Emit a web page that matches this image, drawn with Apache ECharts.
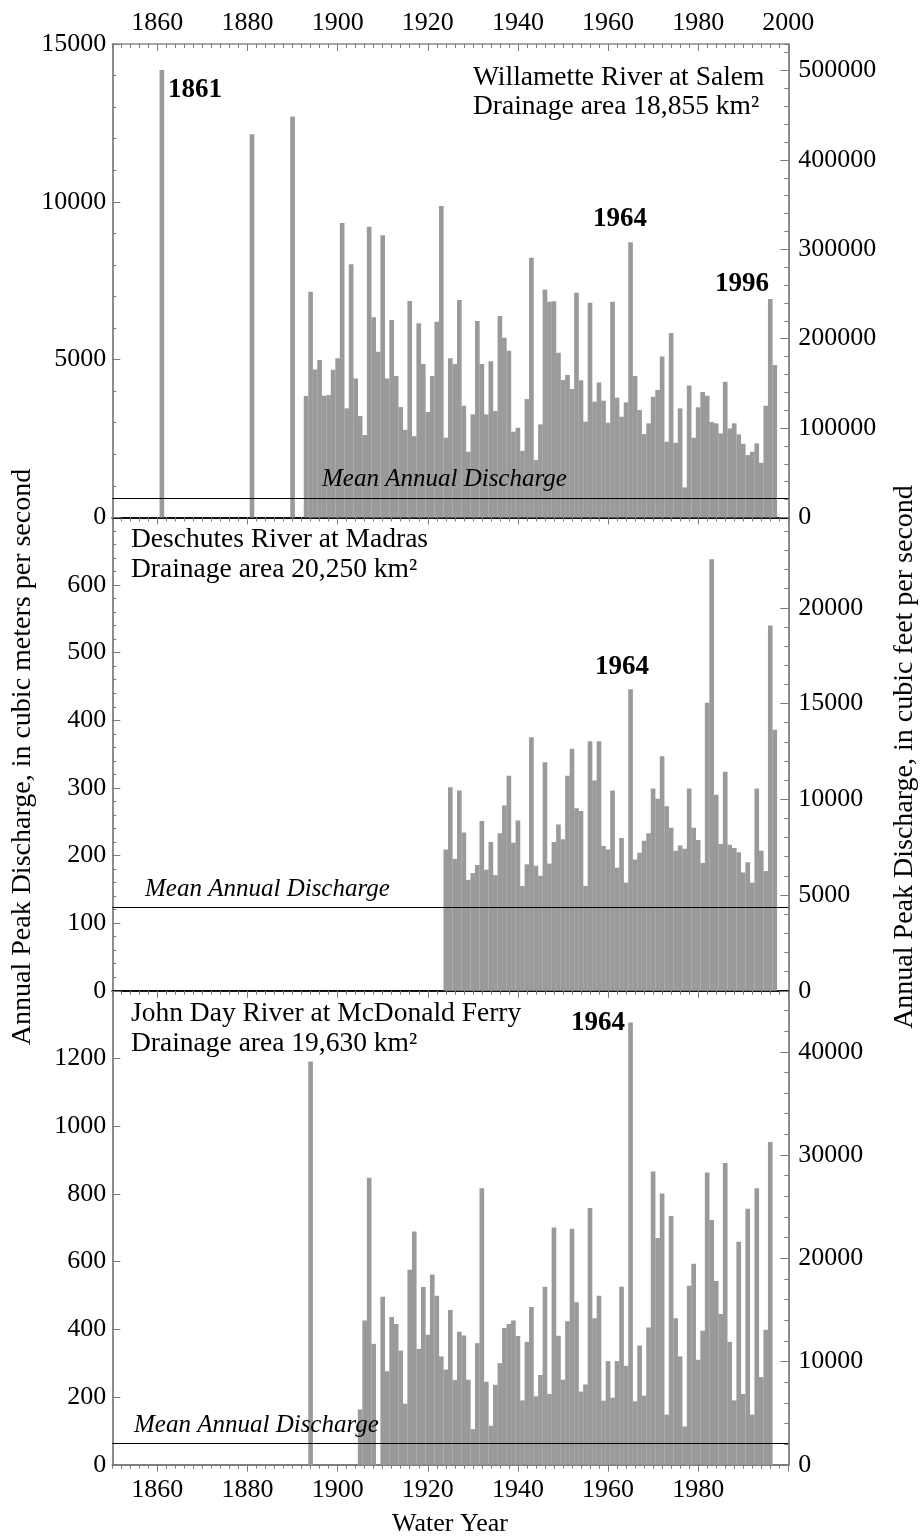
<!DOCTYPE html>
<html><head><meta charset="utf-8">
<script src="https://cdn.jsdelivr.net/npm/echarts@6/dist/echarts.min.js"></script>
<style>html,body{margin:0;padding:0;background:#fff}#c{width:920px;height:1539px}</style>
</head><body><div id="c"></div>
<script>
// ---------------- DATA ----------------
const xTickYears = [1860,1880,1900,1920,1940,1960,1980,2000];
const xBottomLabelYears = [1860,1880,1900,1920,1940,1960,1980];

// Willamette River at Salem (m3/s)
const willametteYears = [1861,1881,1890,
 1893,1894,1895,1896,1897,1898,1899,1900,1901,1902,1903,1904,1905,1906,1907,1908,1909,1910,
 1911,1912,1913,1914,1915,1916,1917,1918,1919,1920,1921,1922,1923,1924,1925,1926,1927,1928,1929,1930,
 1931,1932,1933,1934,1935,1936,1937,1938,1939,1940,1941,1942,1943,1944,1945,1946,1947,1948,1949,1950,
 1951,1952,1953,1954,1955,1956,1957,1958,1959,1960,1961,1962,1963,1964,1965,1966,1967,1968,1969,1970,
 1971,1972,1973,1974,1975,1976,1977,1978,1979,1980,1981,1982,1983,1984,1985,1986,1987,1988,1989,1990,
 1991,1992,1993,1994,1995,1996,1997];
const willametteValues = [14180,12140,12700,
 3850,7150,4690,4985,3855,3876,4680,5040,9330,3455,8020,4405,3210,2610,9210,6340,5250,8940,
 4405,6255,4480,3495,2775,6855,2575,6150,4860,3340,4480,6200,9865,2525,5040,4860,6890,3540,2080,3265,
 6220,4860,3265,4945,3370,6380,5695,5280,2715,2840,2110,3750,8230,1815,2948,7225,6830,6850,5218,4352,
 4510,4067,7120,4342,3031,6803,3665,4278,3697,3000,6835,3792,3190,3645,8715,4480,3400,2640,2980,3823,
 4035,5100,2397,5842,2365,3455,950,4183,2523,3487,3972,3855,3020,2980,2662,4298,2821,2980,2630,2333,
 1975,2080,2345,1731,3537,6919,4827];
const willametteMean = 600;

// Deschutes River at Madras (m3/s)
const deschutesYears = [1924,1925,1926,1927,1928,1929,1930,
 1931,1932,1933,1934,1935,1936,1937,1938,1939,1940,1941,1942,1943,1944,1945,1946,1947,1948,1949,1950,
 1951,1952,1953,1954,1955,1956,1957,1958,1959,1960,1961,1962,1963,1964,1965,1966,1967,1968,1969,1970,
 1971,1972,1973,1974,1975,1976,1977,1978,1979,1980,1981,1982,1983,1984,1985,1986,1987,1988,1989,1990,
 1991,1992,1993,1994,1995,1996,1997];
const deschutesValues = [209,301,195,296,234,164,174,
 186,251,179,220,171,233,274,318,219,252,155,187,375,185,170,338,188,220,246,224,
 318,358,270,266,155,369,311,369,214,209,296,182,226,160,446,194,204,222,233,299,
 284,347,273,241,207,215,210,299,241,223,189,426,638,290,217,324,216,211,205,175,
 190,160,299,207,177,540,386];
const deschutesMean = 123;

// John Day River at McDonald Ferry (m3/s)
const johnDayYears = [1894,1905,1906,1907,1908,1910,
 1911,1912,1913,1914,1915,1916,1917,1918,1919,1920,1921,1922,1923,1924,1925,1926,1927,1928,1929,1930,
 1931,1932,1933,1934,1935,1936,1937,1938,1939,1940,1941,1942,1943,1944,1945,1946,1947,1948,1949,1950,
 1951,1952,1953,1954,1955,1956,1957,1958,1959,1960,1961,1962,1963,1964,1965,1966,1967,1968,1969,1970,
 1971,1972,1973,1974,1975,1976,1977,1978,1979,1980,1981,1982,1983,1984,1985,1986,1987,1988,1989,1990,
 1991,1992,1993,1994,1995,1996];
const johnDayValues = [1191,163,426,848,357,496,
 276,436,416,337,180,576,689,342,525,384,562,499,320,281,457,250,393,382,251,105,
 359,817,245,115,236,300,404,416,426,380,190,363,466,202,265,526,209,701,381,251,
 424,697,480,216,237,758,433,499,189,306,198,306,526,292,1306,187,352,204,405,866,
 670,801,148,735,433,320,113,529,594,310,396,863,723,543,445,891,363,190,659,209,
 756,148,817,259,399,953];
const johnDayMean = 63;

// Axis ticks / labels
const leftTicks1 = [0,5000,10000,15000];
const rightTicks1 = [0,100000,200000,300000,400000,500000];
const leftTicks2 = [0,100,200,300,400,500,600];
const leftMajor2 = [0,100,200,300,400,500,600,700];
const rightTicks2 = [0,5000,10000,15000,20000];
const leftTicks3 = [0,200,400,600,800,1000,1200];
const leftMajor3 = [0,200,400,600,800,1000,1200,1400];
const rightTicks3 = [0,10000,20000,30000,40000];
const CFS = 35.3147;

// ---------------- CHART ----------------
const FONT = 'Liberation Serif';
const axisGray = '#8c8c8c';
const tickGray = '#7a7a7a';
const barColor = '#9a9a9a';
const LEFT = 112.3, RIGHT = 920 - 788.3;

const panels = [
  {top:44, h:473.4, years:willametteYears, values:willametteValues, mean:willametteMean,
   leftMax:15000, leftMajor:leftTicks1, leftLabels:leftTicks1, leftMinor:1000,
   rightMax:15000*CFS, rightMajor:rightTicks1, rightMinor:20000},
  {top:517.4, h:473.4, years:deschutesYears, values:deschutesValues, mean:deschutesMean,
   leftMax:700, leftMajor:leftMajor2, leftLabels:leftTicks2, leftMinor:20,
   rightMax:700*CFS, rightMajor:rightTicks2, rightMinor:1000},
  {top:990.8, h:473.9, years:johnDayYears, values:johnDayValues, mean:johnDayMean,
   leftMax:1400, leftMajor:leftMajor3, leftLabels:leftTicks3, leftMinor:null,
   rightMax:1300*CFS, rightMajor:rightTicks3, rightMinor:2000}
];

const grids = [], xAxes = [], yAxes = [], series = [];
const plain = v => String(Math.round(v));
const labelStyle = {color:'#000', fontSize:26, fontFamily:FONT, formatter:plain};

panels.forEach((p, g) => {
  grids.push({left:LEFT, right:RIGHT, top:p.top, height:p.h, containLabel:false});
  const base = {type:'value', gridIndex:g, min:1850, max:2000, splitLine:{show:false}};
  // top major
  const xMajorIdx = xAxes.length;
  xAxes.push(Object.assign({}, base, {
    position:'top',
    axisLine:{show:g===0, onZero:false, lineStyle:{color:axisGray, width:1.5}},
    axisTick:{show:true, inside:true, length:7, customValues:xTickYears, lineStyle:{color:tickGray, width:1}},
    axisLabel:Object.assign({show:g===0, customValues:xTickYears, margin:8}, labelStyle)
  }));
  // top minor
  xAxes.push(Object.assign({}, base, {
    position:'top', interval:2,
    axisLine:{show:false, onZero:false},
    axisTick:{show:true, inside:true, length:4, lineStyle:{color:tickGray, width:1}},
    axisLabel:{show:false}
  }));
  if (g < 2) {
    xAxes.push(Object.assign({}, base, {
      position:'bottom',
      axisLine:{show:true, onZero:false, lineStyle:{color:'#111', width:2}},
      axisTick:{show:false}, axisLabel:{show:false}
    }));
  } else {
    xAxes.push(Object.assign({}, base, {
      position:'bottom',
      axisLine:{show:true, onZero:false, lineStyle:{color:'#555', width:1.5}},
      axisTick:{show:true, inside:false, length:7, customValues:xTickYears, lineStyle:{color:tickGray, width:1}},
      axisLabel:Object.assign({show:true, customValues:xBottomLabelYears, margin:12}, labelStyle)
    }));
    xAxes.push(Object.assign({}, base, {
      position:'bottom', interval:2,
      axisLine:{show:false, onZero:false},
      axisTick:{show:true, inside:false, length:4, lineStyle:{color:tickGray, width:1}},
      axisLabel:{show:false}
    }));
  }
  // left major
  const yLeftIdx = yAxes.length;
  yAxes.push({
    type:'value', gridIndex:g, position:'left', min:0, max:p.leftMax, splitLine:{show:false},
    axisLine:{show:true, onZero:false, lineStyle:{color:axisGray, width:2}},
    axisTick:{show:true, inside:true, length:8, customValues:p.leftMajor, lineStyle:{color:tickGray, width:1}},
    axisLabel:Object.assign({show:true, customValues:p.leftLabels, margin:6}, labelStyle)
  });
  if (p.leftMinor) {
    yAxes.push({
      type:'value', gridIndex:g, position:'left', min:0, max:p.leftMax, interval:p.leftMinor, splitLine:{show:false},
      axisLine:{show:false, onZero:false},
      axisTick:{show:true, inside:true, length:4, lineStyle:{color:tickGray, width:1}},
      axisLabel:{show:false}
    });
  }
  // right major
  yAxes.push({
    type:'value', gridIndex:g, position:'right', min:0, max:p.rightMax, splitLine:{show:false},
    axisLine:{show:true, onZero:false, lineStyle:{color:axisGray, width:2}},
    axisTick:{show:true, inside:true, length:8, customValues:p.rightMajor, lineStyle:{color:tickGray, width:1}},
    axisLabel:Object.assign({show:true, customValues:p.rightMajor, margin:10}, labelStyle)
  });
  yAxes.push({
    type:'value', gridIndex:g, position:'right', min:0, max:p.rightMax, interval:p.rightMinor, splitLine:{show:false},
    axisLine:{show:false, onZero:false},
    axisTick:{show:true, inside:true, length:4, lineStyle:{color:tickGray, width:1}},
    axisLabel:{show:false}
  });

  series.push({
    type:'bar', xAxisIndex:xMajorIdx, yAxisIndex:yLeftIdx,
    data:p.years.map((y, i) => [y, p.values[i]]),
    barWidth:4.65,
    itemStyle:{color:barColor},
    silent:true,
    markLine:{
      silent:true, symbol:'none', animation:false,
      label:{show:false},
      lineStyle:{color:'#000', width:1, type:'solid'},
      data:[{yAxis:p.mean}]
    }
  });
});

function txt(x, y, text, opt) {
  opt = opt || {};
  return {
    type:'text', x:x, y:y, rotation:opt.rotation || 0, silent:true, z:100,
    style:{
      text:text, fill:'#000',
      font:(opt.style || 'normal') + ' ' + (opt.weight || 'normal') + ' ' + (opt.size || 27) + 'px "' + FONT + '"',
      align:opt.align || 'left', verticalAlign:'middle'
    }
  };
}

const graphics = [
  txt(473, 78, 'Willamette River at Salem', {size:27.5}),
  txt(473, 107, 'Drainage area 18,855 km²', {size:27.5}),
  txt(131, 540, 'Deschutes River at Madras', {size:27.5}),
  txt(131, 570, 'Drainage area 20,250 km²', {size:27.5}),
  txt(131, 1014, 'John Day River at McDonald Ferry', {size:27.5}),
  txt(131, 1044, 'Drainage area 19,630 km²', {size:27.5}),
  txt(168, 90, '1861', {weight:'bold'}),
  txt(593, 219, '1964', {weight:'bold'}),
  txt(715, 284, '1996', {weight:'bold'}),
  txt(595, 667, '1964', {weight:'bold'}),
  txt(571, 1023, '1964', {weight:'bold'}),
  txt(322, 479, 'Mean Annual Discharge', {style:'italic', size:25}),
  txt(145, 889, 'Mean Annual Discharge', {style:'italic', size:25}),
  txt(134, 1425, 'Mean Annual Discharge', {style:'italic', size:25}),
  txt(22.5, 757, 'Annual Peak Discharge, in cubic meters per second', {rotation:Math.PI/2, align:'center', size:28}),
  txt(905, 757, 'Annual Peak Discharge, in cubic feet per second', {rotation:Math.PI/2, align:'center', size:28}),
  txt(450, 1524, 'Water Year', {align:'center', size:26})
];

const chart = echarts.init(document.getElementById('c'), null, {renderer:'canvas'});
chart.setOption({
  backgroundColor:'#fff',
  animation:false,
  grid:grids,
  xAxis:xAxes,
  yAxis:yAxes,
  series:series,
  graphic:graphics
});
</script>
</body></html>
